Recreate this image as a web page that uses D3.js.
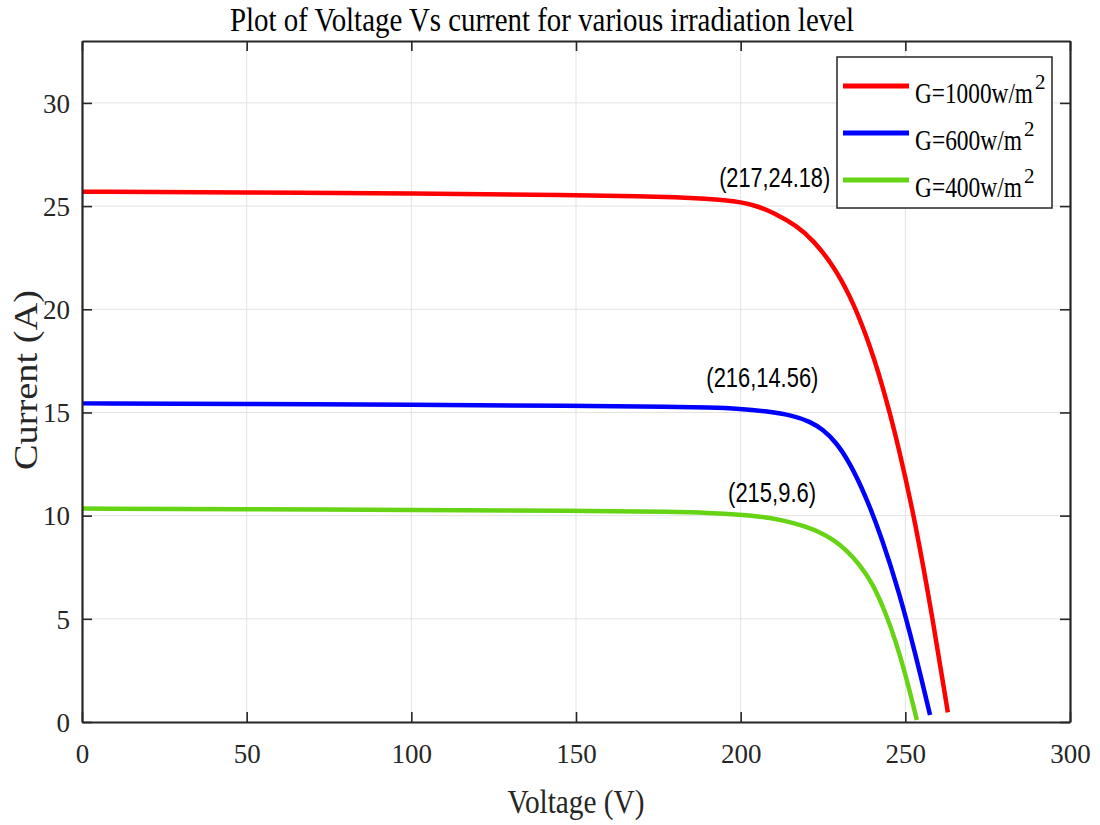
<!DOCTYPE html>
<html>
<head>
<meta charset="utf-8">
<script src="https://cdn.jsdelivr.net/npm/d3@7"></script>
<style>
  body { margin: 0; background: #fff; }
  svg { display: block; }
  .serif { font-family: "Liberation Serif", "DejaVu Serif", serif; fill: #262626; }
  .sans { font-family: "Liberation Sans Narrow", "Liberation Sans", Arial, sans-serif; fill: #000; }
  .grid line { stroke: #e3e3e3; stroke-width: 1; }
</style>
</head>
<body>
<div id="wrapper"></div>
<script>
// data
const xTicks = [0, 50, 100, 150, 200, 250, 300]
const yTicks = [0, 5, 10, 15, 20, 25, 30]

const seriesNames = ["G=1000w/m", "G=600w/m", "G=400w/m"]
const seriesColors = ["#ff0000", "#0000ff", "#66d414"]

const voltage1000 = [0, 50, 100, 150, 170, 180, 190, 195, 200, 205, 210, 217, 222, 228, 233, 238, 243, 248, 253, 258, 262.9]
const current1000 = [25.7, 25.66, 25.61, 25.53, 25.47, 25.43, 25.35, 25.29, 25.2, 25.0, 24.68, 24.05, 23.35, 22.15, 20.73, 18.83, 16.38, 13.33, 9.7, 5.3, 0.47]

const voltage600 = [0, 50, 100, 150, 180, 190, 200, 208, 216, 221, 225, 229, 233, 238, 243, 248, 253, 257.5]
const current600 = [15.44, 15.41, 15.37, 15.32, 15.27, 15.24, 15.18, 15.06, 14.85, 14.56, 14.18, 13.55, 12.6, 10.95, 8.85, 6.35, 3.35, 0.34]

const voltage400 = [0, 50, 100, 150, 180, 190, 200, 207, 212, 216, 220, 224, 228, 232, 236, 240, 244, 247, 250, 253.5]
const current400 = [10.34, 10.31, 10.28, 10.24, 10.18, 10.14, 10.05, 9.94, 9.8, 9.64, 9.45, 9.2, 8.85, 8.35, 7.65, 6.75, 5.3, 3.95, 2.35, 0.1]

const pointLabels = ["(217,24.18)", "(216,14.56)", "(215,9.6)"]
const pointV = [217, 216, 215]
const pointI = [24.18, 14.56, 9.6]

function drawChart() {
    const dimensions = {
        width: 1100,
        height: 825,
        margin: { top: 41, right: 30, bottom: 103, left: 82 },
    }
    dimensions.boundedWidth = dimensions.width - dimensions.margin.left - dimensions.margin.right
    dimensions.boundedHeight = dimensions.height - dimensions.margin.top - dimensions.margin.bottom

    const wrapper = d3.select("#wrapper")
        .append("svg")
        .attr("width", dimensions.width)
        .attr("height", dimensions.height)

    const bounds = wrapper.append("g")
        .attr("transform", `translate(${dimensions.margin.left},${dimensions.margin.top})`)

    const xScale = d3.scaleLinear()
        .domain([0, 300])
        .range([0, dimensions.boundedWidth])
    const yScale = d3.scaleLinear()
        .domain([0, 33])
        .range([dimensions.boundedHeight, 0])

    // grid
    const grid = bounds.append("g").attr("class", "grid")
    grid.selectAll(".gx")
        .data(xTicks.slice(1, -1))
        .join("line")
        .attr("x1", xScale).attr("x2", xScale)
        .attr("y1", 0).attr("y2", dimensions.boundedHeight)
    grid.selectAll(".gy")
        .data(yTicks.slice(1))
        .join("line")
        .attr("x1", 0).attr("x2", dimensions.boundedWidth)
        .attr("y1", yScale).attr("y2", yScale)

    // curves
    const series = [
        { v: voltage1000, i: current1000 },
        { v: voltage600, i: current600 },
        { v: voltage400, i: current400 },
    ]
    const lineGenerator = d3.line()
        .x(d => xScale(d[0]))
        .y(d => yScale(d[1]))
        .curve(d3.curveBasis)

    bounds.selectAll(".curve")
        .data(series)
        .join("path")
        .attr("class", "curve")
        .attr("fill", "none")
        .attr("stroke", (d, k) => seriesColors[k])
        .attr("stroke-width", 4.5)
        .attr("d", d => lineGenerator(d.v.map((v, k) => [v, d.i[k]])))

    // axes, ticks pointing inward, box all round
    const tickLen = 10
    const xAxis = bounds.append("g")
        .attr("transform", `translate(0,${dimensions.boundedHeight})`)
        .call(d3.axisBottom(xScale).tickValues(xTicks).tickSizeInner(-tickLen).tickSizeOuter(0).tickPadding(22))
    const xAxisTop = bounds.append("g")
        .call(d3.axisTop(xScale).tickValues(xTicks).tickSizeInner(-tickLen).tickSizeOuter(0).tickFormat(""))
    const yAxis = bounds.append("g")
        .call(d3.axisLeft(yScale).tickValues(yTicks).tickSizeInner(-tickLen).tickSizeOuter(0).tickPadding(12))
    const yAxisRight = bounds.append("g")
        .attr("transform", `translate(${dimensions.boundedWidth},0)`)
        .call(d3.axisRight(yScale).tickValues(yTicks).tickSizeInner(-tickLen).tickSizeOuter(0).tickFormat(""))

    ;[xAxis, xAxisTop, yAxis, yAxisRight].forEach(a => {
        a.select(".domain").attr("stroke", "#262626").attr("stroke-width", 2.2)
        a.selectAll(".tick line").attr("stroke", "#262626").attr("stroke-width", 1.6)
        a.selectAll(".tick text")
            .attr("class", "serif")
            .attr("fill", "#262626")
            .style("font-size", "27px")
    })
    xAxis.selectAll(".tick text").attr("dy", "0.71em")
    yAxis.selectAll(".tick text").attr("dy", "0.34em")

    // data tips
    const labelOffsets = [[-22, -36], [-31, -35], [-18, -22]]
    const labelWidths = [111, 112, 88]
    bounds.selectAll(".point-label")
        .data(pointLabels)
        .join("text")
        .attr("class", "point-label sans")
        .attr("x", (d, k) => xScale(pointV[k]) + labelOffsets[k][0])
        .attr("y", (d, k) => yScale(pointI[k]) + labelOffsets[k][1])
        .attr("text-anchor", "middle")
        .attr("textLength", (d, k) => labelWidths[k])
        .attr("lengthAdjust", "spacingAndGlyphs")
        .style("font-size", "27px")
        .text(d => d)

    // legend
    const legendGroup = bounds.append("g")
        .attr("transform", `translate(${dimensions.boundedWidth - 233},16)`)
    legendGroup.append("rect")
        .attr("width", 215)
        .attr("height", 151)
        .attr("fill", "#fff")
        .attr("stroke", "#262626")
        .attr("stroke-width", 1.5)
    const legendItems = legendGroup.selectAll(".legend-item")
        .data(seriesNames)
        .join("g")
        .attr("class", "legend-item")
        .attr("transform", (d, k) => `translate(0,${29 + k * 47})`)
    legendItems.append("line")
        .attr("x1", 6).attr("x2", 72)
        .attr("stroke", (d, k) => seriesColors[k])
        .attr("stroke-width", 5)
    const legendTextWidths = [118, 107, 107]
    const legendText = legendItems.append("text")
        .attr("class", "serif")
        .attr("x", 78)
        .attr("y", 17)
        .style("font-size", "30px")
        .style("fill", "#000")
    legendText.append("tspan")
        .attr("textLength", (d, k) => legendTextWidths[k])
        .attr("lengthAdjust", "spacingAndGlyphs")
        .text(d => d)
    legendText.append("tspan")
        .attr("dx", 2)
        .attr("dy", -14)
        .style("font-size", "21px")
        .text("2")

    // title and axis labels
    wrapper.append("text")
        .attr("class", "serif")
        .attr("x", 542)
        .attr("y", 31)
        .attr("text-anchor", "middle")
        .attr("textLength", 624)
        .attr("lengthAdjust", "spacingAndGlyphs")
        .style("font-size", "34px")
        .style("fill", "#000")
        .text("Plot of Voltage Vs current for various irradiation level")

    wrapper.append("text")
        .attr("class", "serif")
        .attr("x", dimensions.margin.left + dimensions.boundedWidth / 2)
        .attr("y", 813)
        .attr("text-anchor", "middle")
        .attr("textLength", 137)
        .attr("lengthAdjust", "spacingAndGlyphs")
        .style("font-size", "33px")
        .text("Voltage (V)")

    wrapper.append("text")
        .attr("class", "serif")
        .attr("transform", "translate(37,380) rotate(-90)")
        .attr("text-anchor", "middle")
        .attr("textLength", 180)
        .attr("lengthAdjust", "spacingAndGlyphs")
        .style("font-size", "33px")
        .text("Current (A)")
}
drawChart()
</script>
</body>
</html>
